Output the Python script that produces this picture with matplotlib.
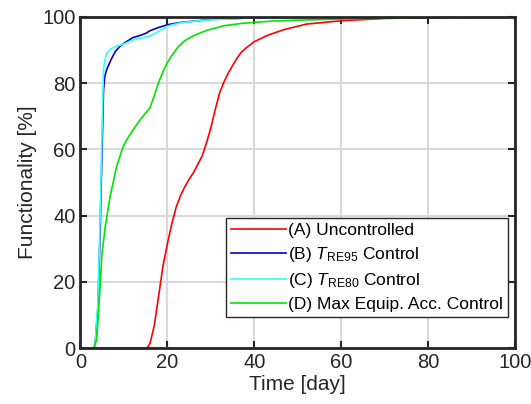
import matplotlib
matplotlib.use("Agg")
import matplotlib.pyplot as plt

plt.rcParams['font.family'] = ['Liberation Sans', 'DejaVu Sans']
plt.rcParams['mathtext.fontset'] = 'custom'
plt.rcParams['mathtext.it'] = 'Liberation Sans:italic'
plt.rcParams['mathtext.rm'] = 'Liberation Sans'

# Series A: Uncontrolled
days_a = [1, 3, 15, 15.5, 16, 17, 18, 19, 20, 21, 22, 23, 24, 25, 26, 27, 28, 29, 30,
          31, 32, 33, 34, 35, 36, 37, 38, 40, 43, 47, 52, 60, 70, 80, 100]
func_a = [0, 0, 0, 0.4, 1.5, 7, 16, 25, 31.5, 37.5, 42.5, 46, 48.7, 51, 53, 55.5, 58, 62, 66.5,
          72, 77, 80.3, 83, 85.3, 87.5, 89.3, 90.5, 92.5, 94.4, 96.2, 97.8, 98.8,
          99.5, 99.8, 100]

# Series B: T_RE95 control
days_b = [1, 3, 3.3, 4, 4.5, 5, 5.3, 5.6, 6, 7, 8, 9, 10, 12, 14, 15, 16, 18, 20, 23, 27, 30,
          40, 50, 100]
func_b = [0, 0, 0, 12, 35, 62, 78, 82, 84, 87, 89.5, 91, 92, 93.7, 94.5, 95, 95.8, 96.8, 97.6,
          98.3, 98.8, 99.2, 99.7, 99.9, 100]

# Series C: T_RE80 control
days_c = [1, 3, 3.3, 4, 4.5, 5, 5.3, 5.6, 6, 7, 8, 10, 12, 14, 16, 18, 20, 23, 27, 30,
          40, 50, 100]
func_c = [0, 0, 0, 14, 38, 68, 84, 87, 89, 90.3, 91, 91.8, 93, 93.6, 94.2, 95.6, 97.2,
          98.2, 98.8, 99.1, 99.7, 99.9, 100]

# Series D: Max equipment accessibility control
days_d = [1, 3, 3.7, 4, 4.5, 4.9, 5.7, 6.8, 8.3, 9.8, 11, 12.1, 13.7, 16, 17, 18, 19, 20,
          21, 22.5, 24, 26, 29, 33, 37, 44, 50, 60, 70, 100]
func_d = [0, 0, 2.5, 8, 18.6, 28, 36.7, 45.7, 54.8, 60.8, 63.7, 65.9, 68.9, 72.6, 76.3, 80.3,
          83.5, 86.2, 88.3, 91, 92.8, 94.3, 95.9, 97.3, 98, 98.7, 99, 99.3, 99.6, 100]

labels = ['(A) Uncontrolled',
          r'(B) $T_{\mathrm{RE95}}$ Control',
          r'(C) $T_{\mathrm{RE80}}$ Control',
          '(D) Max Equip. Acc. Control']
colors = ['#ff0000', '#0000c8', '#33ffff', '#00e600']

fig = plt.figure(figsize=(5.31, 4.04), dpi=100)
ax = fig.add_axes([0.1516, 0.1379, 0.8184, 0.8205])

for d, f, lab, c in zip([days_a, days_b, days_c, days_d],
                        [func_a, func_b, func_c, func_d], labels, colors):
    ax.plot(d, f, color=c, lw=1.2, label=lab)

ax.set_xlim(0, 100)
ax.set_ylim(0, 100)
ax.set_xticks([0, 20, 40, 60, 80, 100])
ax.set_yticks([0, 20, 40, 60, 80, 100])
ax.grid(True, color='#d9d9d9', lw=1.5)
ax.set_axisbelow(True)
ax.tick_params(direction='in', length=5, width=1.5, labelsize=14.5, top=True, right=True,
               colors='#262626')
for s in ax.spines.values():
    s.set_linewidth(2)
    s.set_color('#262626')
ax.set_xlabel('Time [day]', fontsize=15, color='#262626', labelpad=2)
ax.set_ylabel('Functionality [%]', fontsize=15, color='#262626', labelpad=4)

leg = ax.legend(loc='lower right', bbox_to_anchor=(0.984, 0.094), borderaxespad=0,
                fontsize=12.5, handlelength=3.2, handletextpad=0.1, labelspacing=0.4,
                borderpad=0.3, fancybox=False, framealpha=1)
leg.get_frame().set_edgecolor('#262626')
leg.get_frame().set_linewidth(1.0)

fig.savefig('out.png', dpi=100)
